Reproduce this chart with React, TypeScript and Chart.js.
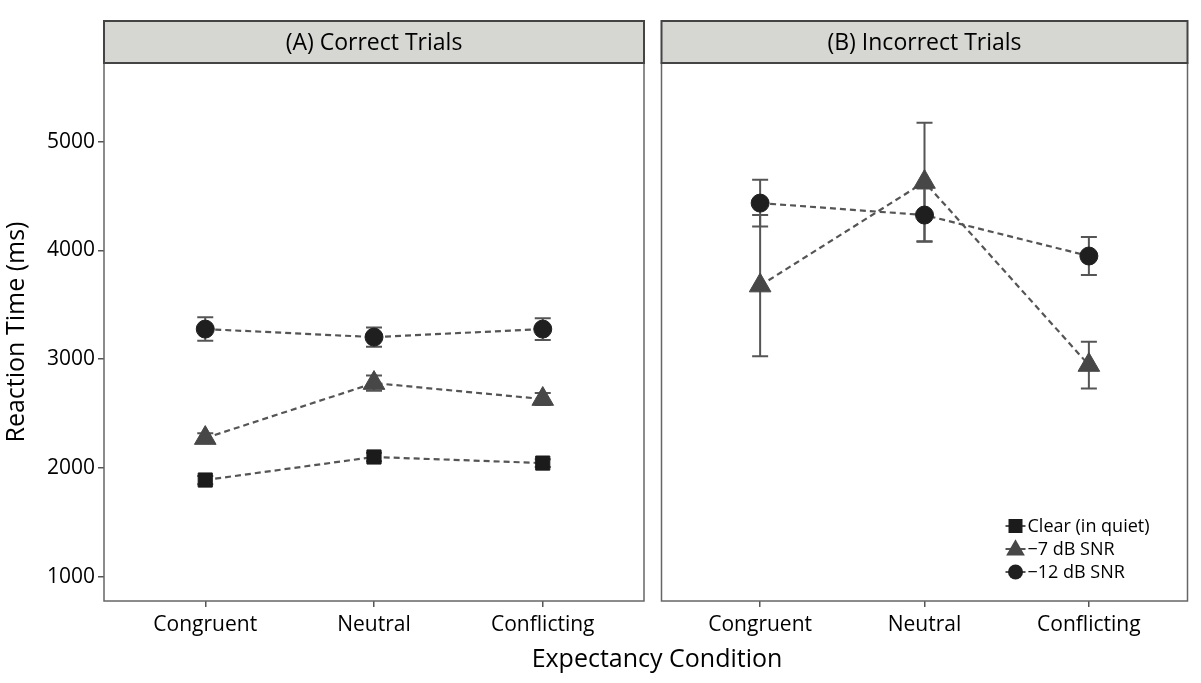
import { useEffect, useRef } from 'react';
import { Chart, registerables } from 'chart.js';

Chart.register(...registerables);

const FONT = '"Open Sans", "Noto Sans", sans-serif';
const TEXT = '#000';

// categories on the x axis (shared by both panels)
const categories = ['Congruent', 'Neutral', 'Conflicting'];
const yTicks = [1000, 2000, 3000, 4000, 5000];
const seriesNames = ['Clear (in quiet)', '\u22127 dB SNR', '\u221212 dB SNR'];

// (A) correct trials: means and error half-widths (ms)
const correctClear = [1888, 2100, 2044];
const correctClearErr = [38, 40, 36];
const correct7 = [2274, 2780, 2633];
const correct7Err = [45, 70, 55];
const correct12 = [3277, 3203, 3277];
const correct12Err = [108, 88, 100];

// (B) incorrect trials (no clear-speech errors)
const incorrect7 = [3677, 4630, 2946];
const incorrect7Err = [650, 545, 215];
const incorrect12 = [4436, 4326, 3949];
const incorrect12Err = [215, 245, 175];

const Y_MIN = 775;
const Y_MAX = 5725;

const markers = [
  { shape: 'rect', color: '#1b1b1b', radius: 10 },
  { shape: 'triangle', color: '#474747', radius: 12.5 },
  { shape: 'circle', color: '#1f1f1f', radius: 9 },
];

function makeDataset(seriesIdx: number, values: number[], errors: number[]) {
  const m = markers[seriesIdx];
  return {
    label: seriesNames[seriesIdx],
    data: values.map((v, i) => ({ x: i + 1, y: v })),
    errors,
    borderColor: '#555',
    borderWidth: 2.2,
    borderDash: [6, 4],
    pointStyle: m.shape,
    pointRadius: m.radius,
    pointBackgroundColor: m.color,
    pointBorderColor: m.color,
    pointBorderWidth: 1,
    fill: false,
    tension: 0,
  };
}

function drawMarker(ctx: CanvasRenderingContext2D, shape: string, x: number, y: number, s: number) {
  ctx.beginPath();
  if (shape === 'rect') {
    ctx.rect(x - s, y - s, 2 * s, 2 * s);
  } else if (shape === 'triangle') {
    ctx.moveTo(x, y - s * 1.15);
    ctx.lineTo(x + s * 1.1, y + s * 0.75);
    ctx.lineTo(x - s * 1.1, y + s * 0.75);
    ctx.closePath();
  } else {
    ctx.arc(x, y, s, 0, Math.PI * 2);
  }
  ctx.fill();
}

const facetPlugin = {
  id: 'facet',
  beforeDatasetsDraw(chart: any) {
    const { ctx } = chart;
    const xs = chart.scales.x;
    const ys = chart.scales.y;
    ctx.save();
    ctx.strokeStyle = '#555';
    ctx.lineWidth = 2;
    chart.data.datasets.forEach((ds: any) => {
      ds.data.forEach((p: any, i: number) => {
        const e = ds.errors[i];
        const px = xs.getPixelForValue(p.x);
        const top = ys.getPixelForValue(p.y + e);
        const bot = ys.getPixelForValue(p.y - e);
        ctx.beginPath();
        ctx.moveTo(px, top);
        ctx.lineTo(px, bot);
        ctx.moveTo(px - 8, top);
        ctx.lineTo(px + 8, top);
        ctx.moveTo(px - 8, bot);
        ctx.lineTo(px + 8, bot);
        ctx.stroke();
      });
    });
    ctx.restore();
  },
  afterDraw(chart: any, _args: any, opts: any) {
    const { ctx, chartArea: a } = chart;
    ctx.save();
    // panel border
    ctx.strokeStyle = '#666';
    ctx.lineWidth = 1.5;
    ctx.strokeRect(a.left, a.top, a.right - a.left, a.bottom - a.top);
    // strip
    const stripTop = 21;
    ctx.fillStyle = '#d6d6d2';
    ctx.fillRect(a.left, stripTop, a.right - a.left, a.top - stripTop);
    ctx.strokeStyle = '#444';
    ctx.lineWidth = 2;
    ctx.strokeRect(a.left, stripTop, a.right - a.left, a.top - stripTop);
    ctx.fillStyle = TEXT;
    ctx.font = `23px ${FONT}`;
    ctx.textAlign = 'center';
    ctx.textBaseline = 'middle';
    ctx.fillText(opts.title, (a.left + a.right) / 2, (stripTop + a.top) / 2 + 1);

    if (opts.xTitle) {
      ctx.font = `25px ${FONT}`;
      ctx.fillText(opts.xTitle, opts.xTitleX, 660);
    }

    if (opts.legend) {
      const mx = a.right - 172;
      const rows = [a.bottom - 75, a.bottom - 52, a.bottom - 29];
      ctx.font = `18px ${FONT}`;
      ctx.textAlign = 'left';
      seriesNames.forEach((name, i) => {
        const y = rows[i];
        const m = markers[i];
        ctx.strokeStyle = '#555';
        ctx.lineWidth = 2;
        ctx.beginPath();
        ctx.moveTo(mx - 10, y);
        ctx.lineTo(mx + 10, y);
        ctx.stroke();
        ctx.fillStyle = m.color;
        drawMarker(ctx, m.shape, mx, y, m.shape === 'circle' ? 7.5 : m.shape === 'triangle' ? 8.5 : 7);
        ctx.fillStyle = TEXT;
        ctx.fillText(name, mx + 12, y + 1);
      });
    }
    ctx.restore();
  },
};

function xScale() {
  return {
    type: 'linear' as const,
    min: 0.4,
    max: 3.6,
    afterBuildTicks: (scale: any) => {
      scale.ticks = categories.map((_, i) => ({ value: i + 1 }));
    },
    afterFit: (scale: any) => {
      scale.height = 82;
    },
    border: { display: false },
    grid: {
      drawOnChartArea: false,
      drawTicks: true,
      tickLength: 6,
      tickColor: '#555',
      lineWidth: 1.5,
    },
    ticks: {
      autoSkip: false,
      maxRotation: 0,
      padding: 5,
      color: TEXT,
      font: { family: FONT, size: 21 },
      callback: (v: any) => categories[Math.round(v) - 1] ?? '',
    },
  };
}

function yScale(show: boolean) {
  return {
    type: 'linear' as const,
    display: show,
    min: Y_MIN,
    max: Y_MAX,
    afterBuildTicks: (scale: any) => {
      scale.ticks = yTicks.map((v) => ({ value: v }));
    },
    afterFit: (scale: any) => {
      scale.width = show ? 104 : 0;
    },
    border: { display: false },
    grid: {
      drawOnChartArea: false,
      drawTicks: true,
      tickLength: 6,
      tickColor: '#555',
      lineWidth: 1.5,
    },
    title: {
      display: true,
      text: 'Reaction Time (ms)',
      color: TEXT,
      font: { family: FONT, size: 25 },
      padding: { top: 2, bottom: 0 },
    },
    ticks: {
      padding: 3,
      color: TEXT,
      font: { family: FONT, size: 21 },
      callback: (v: any) => String(v),
    },
  };
}

export default function App() {
  const refA = useRef<HTMLCanvasElement>(null);
  const refB = useRef<HTMLCanvasElement>(null);

  useEffect(() => {
    document.body.style.margin = '0';
    if (!refA.current || !refB.current) return;

    const chartA = new Chart(refA.current, {
      type: 'line',
      data: {
        datasets: [
          makeDataset(2, correct12, correct12Err),
          makeDataset(1, correct7, correct7Err),
          makeDataset(0, correctClear, correctClearErr),
        ] as any,
      },
      options: {
        responsive: false,
        animation: false,
        layout: { padding: { top: 63, right: 557, left: 0, bottom: 0 } },
        scales: { x: xScale(), y: yScale(true) } as any,
        plugins: {
          legend: { display: false },
          tooltip: { enabled: false },
          facet: { title: '(A) Correct Trials', xTitle: 'Expectancy Condition', xTitleX: 657 },
        } as any,
      },
      plugins: [facetPlugin],
    });

    const chartB = new Chart(refB.current, {
      type: 'line',
      data: {
        datasets: [
          makeDataset(2, incorrect12, incorrect12Err),
          makeDataset(1, incorrect7, incorrect7Err),
        ] as any,
      },
      options: {
        responsive: false,
        animation: false,
        layout: { padding: { top: 63, right: 4, left: 9, bottom: 0 } },
        scales: { x: xScale(), y: yScale(false) } as any,
        plugins: {
          legend: { display: false },
          tooltip: { enabled: false },
          facet: { title: '(B) Incorrect Trials', legend: true },
        } as any,
      },
      plugins: [facetPlugin],
    });

    return () => {
      chartA.destroy();
      chartB.destroy();
    };
  }, []);

  return (
    <div style={{ position: 'relative', width: 1201, height: 683, background: '#fff' }}>
      <canvas ref={refA} width={1201} height={683} style={{ position: 'absolute', left: 0, top: 0 }} />
      <canvas ref={refB} width={553} height={683} style={{ position: 'absolute', left: 648, top: 0 }} />
    </div>
  );
}
